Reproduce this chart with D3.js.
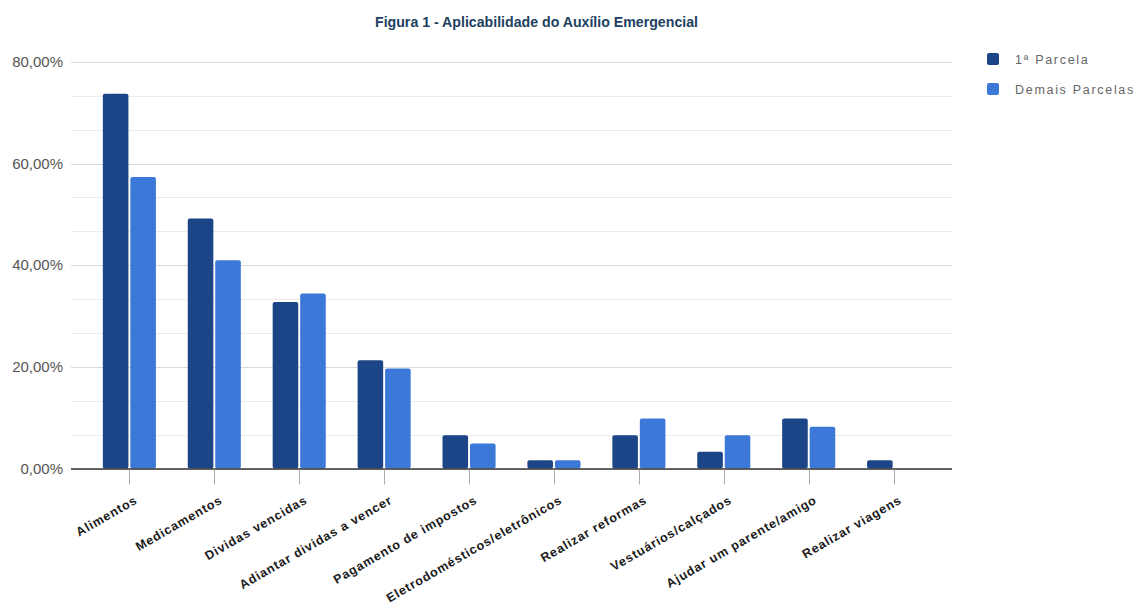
<!DOCTYPE html>
<html>
<head>
<meta charset="utf-8">
<script src="https://cdn.jsdelivr.net/npm/d3@7"></script>
<style>
  html, body { margin: 0; padding: 0; background: #fff; }
  svg { display: block; }
</style>
</head>
<body>
<svg id="chart" width="1138" height="605"></svg>
<script>
// Categories and shares (%) for each instalment
const categories = [
  "Alimentos", "Medicamentos", "Dividas vencidas", "Adiantar dividas a vencer",
  "Pagamento de impostos", "Eletrodomésticos/eletrônicos", "Realizar reformas",
  "Vestuários/calçados", "Ajudar um parente/amigo", "Realizar viagens"
];
const seriesNames = ["1ª Parcela", "Demais Parcelas"];
const primeiraParcela = [73.77, 49.18, 32.79, 21.31, 6.56, 1.64, 6.56, 3.28, 9.84, 1.64];
const demaisParcelas  = [57.38, 40.98, 34.43, 19.67, 4.92, 1.64, 9.84, 6.56, 8.20, 0];
const seriesColors = ["#1c4587", "#3c78d8"];
const yTicks = [0, 20, 40, 60, 80];
const title = "Figura 1 - Aplicabilidade do Auxílio Emergencial";

const svg = d3.select("#chart");
const plot = { left: 71, right: 952, top: 62, bottom: 468.5 };

const x0 = d3.scaleBand().domain(categories).range([plot.left, plot.right]).padding(0.375);
const x1 = d3.scaleBand().domain(seriesNames).range([0, x0.bandwidth()]).paddingInner(0.07);
const y = d3.scaleLinear().domain([0, 80]).range([plot.bottom, plot.top]);

// Gridlines: major every 20%, two minor lines between
const gridVals = d3.range(0, 80.001, 20 / 3);
svg.append("g").selectAll("line").data(gridVals).join("line")
  .attr("x1", plot.left).attr("x2", plot.right)
  .attr("y1", d => Math.round(y(d)) + 0.5).attr("y2", d => Math.round(y(d)) + 0.5)
  .attr("stroke", (d, i) => i % 3 === 0 ? "#d9d9d9" : "#ebebeb")
  .attr("stroke-width", 1);

// Y axis labels
const fmt = v => d3.format(".2f")(v).replace(".", ",") + "%";
svg.append("g").selectAll("text").data(yTicks).join("text")
  .attr("x", 63).attr("y", d => y(d) + 5)
  .attr("text-anchor", "end")
  .attr("font-family", "Liberation Sans, Arial, sans-serif")
  .attr("font-size", 15)
  .attr("fill", "#555")
  .text(fmt);

// Bars
const rows = categories.map((c, i) => ({ cat: c, vals: [primeiraParcela[i], demaisParcelas[i]] }));
const groups = svg.append("g").selectAll("g").data(rows).join("g")
  .attr("transform", d => `translate(${x0(d.cat)},0)`);
groups.selectAll("rect")
  .data(d => d.vals.map((v, k) => ({ name: seriesNames[k], v, k })).filter(e => e.v > 0))
  .join("rect")
  .attr("x", e => x1(e.name))
  .attr("width", x1.bandwidth())
  .attr("y", e => y(e.v))
  .attr("height", e => y(0) - y(e.v))
  .attr("rx", 2).attr("ry", 2)
  .attr("fill", e => seriesColors[e.k]);

// X axis: baseline, ticks and rotated labels
const xAxis = svg.append("g").attr("transform", `translate(0,${plot.bottom})`);
xAxis.append("line")
  .attr("x1", plot.left).attr("x2", plot.right)
  .attr("y1", 0.5).attr("y2", 0.5)
  .attr("stroke", "#333").attr("stroke-width", 1.5);
xAxis.selectAll("line.tick").data(categories).join("line")
  .attr("class", "tick")
  .attr("x1", d => Math.round(x0(d) + x0.bandwidth() / 2) + 0.5)
  .attr("x2", d => Math.round(x0(d) + x0.bandwidth() / 2) + 0.5)
  .attr("y1", 1).attr("y2", 16)
  .attr("stroke", "#aaa");
xAxis.selectAll("text").data(categories).join("text")
  .attr("transform", d => `translate(${x0(d) + x0.bandwidth() / 2 + 9},34) rotate(-30)`)
  .attr("text-anchor", "end")
  .attr("font-family", "Liberation Sans, Arial, sans-serif")
  .attr("font-size", 12.5)
  .attr("font-weight", "bold")
  .attr("letter-spacing", 0.9)
  .attr("fill", "#1a1a1a")
  .text(d => d);

// Title
svg.append("text")
  .attr("x", 536.5).attr("y", 26.5)
  .attr("text-anchor", "middle")
  .attr("font-family", "Liberation Sans, Arial, sans-serif")
  .attr("font-size", 15.5)
  .attr("font-weight", "bold")
  .attr("fill", "#21405f")
  .attr("textLength", 323)
  .attr("lengthAdjust", "spacingAndGlyphs")
  .text(title);

// Legend
const legend = svg.append("g").selectAll("g").data(seriesNames).join("g")
  .attr("transform", (d, i) => `translate(987,${53 + i * 30})`);
legend.append("rect")
  .attr("width", 12).attr("height", 12).attr("rx", 2)
  .attr("fill", (d, i) => seriesColors[i]);
legend.append("text")
  .attr("x", 28).attr("y", 10.5)
  .attr("font-family", "Liberation Sans, Arial, sans-serif")
  .attr("font-size", 12.5)
  .attr("letter-spacing", 1.7)
  .attr("fill", "#666")
  .text(d => d);
</script>
</body>
</html>
